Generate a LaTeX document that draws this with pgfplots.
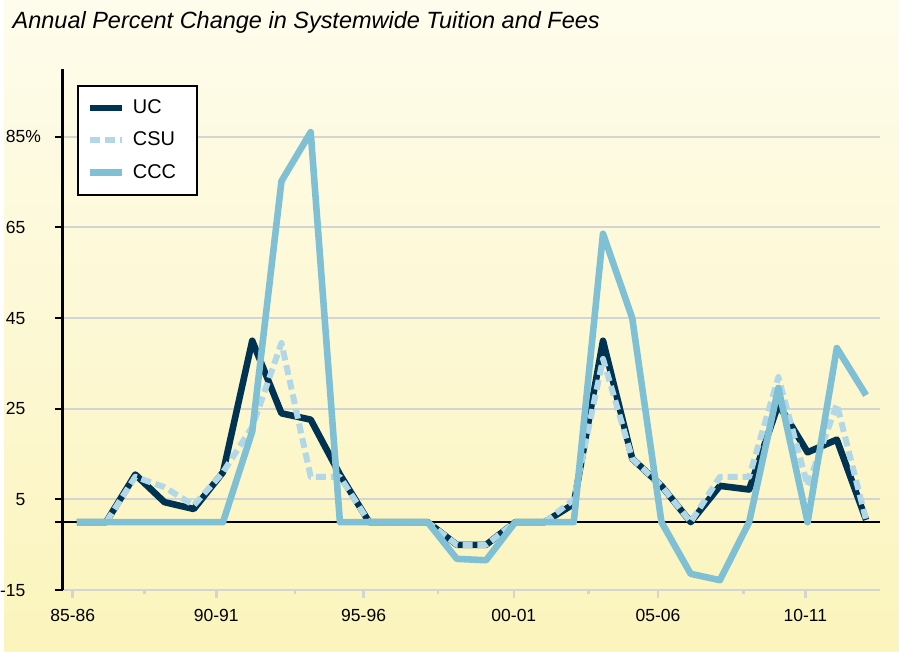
\documentclass[border=0pt]{standalone}
\usepackage{fontspec}
\setmainfont{Liberation Sans}
\usepackage{pgfplots}
\pgfplotsset{compat=1.18}
\definecolor{ucc}{RGB}{0,51,82}
\definecolor{csuc}{RGB}{178,216,232}
\definecolor{cccc}{RGB}{128,192,212}
\definecolor{gridc}{RGB}{212,212,212}
\definecolor{bgtop}{RGB}{254,252,236}
\definecolor{bgbot}{RGB}{251,244,188}
\begin{document}
\begin{tikzpicture}
\shade[top color=bgtop, bottom color=bgbot] (0,0) rectangle (449.5pt,327.5pt);
\begin{axis}[
  at={(29.25pt,31pt)}, anchor=south west,
  scale only axis, width=410.75pt, height=262pt,
  xmin=-0.49, xmax=27.48, ymin=-15, ymax=100,
  axis x line*=bottom, axis y line*=left,
  x axis line style={draw=gridc, line width=1pt, -},
  y axis line style={draw=black, line width=1.25pt, -},
  xtick={-0.14,4.77,9.81,14.95,19.88,24.92},
  xticklabels={85-86,90-91,95-96,00-01,05-06,10-11},
  minor xtick={2.32,7.46,12.36,17.5,22.81},
  ytick={-15,5,25,45,65,85},
  yticklabels={-15,5,25,45,65,85\rlap{\%}},
  tick align=outside,
  major tick length=4pt, minor tick length=2pt,
  x tick style={draw=gridc, line width=1.3pt},
  y tick style={draw=black, line width=1pt},
  ymajorgrids, major grid style={draw=gridc, line width=1pt},
  extra y ticks={0}, extra y tick labels={},
  extra y tick style={grid=major, major grid style={draw=black, line width=0.8pt}, tick style={draw=none}},
  /pgf/number format/assume math mode=true,
  yticklabel style={font=\fontsize{8.8}{10}\selectfont, anchor=east, inner sep=0pt, xshift=-14.5pt},
  xticklabel style={font=\fontsize{8.8}{10}\selectfont, anchor=north, inner sep=0pt, yshift=-5.5pt},
  legend style={at={(axis description cs:0,1)}, anchor=north west, xshift=7.1pt, yshift=-8pt,
    draw=black, line width=1pt, fill=white, inner xsep=4.5pt, inner ysep=7pt, row sep=7.75pt,
    font=\fontsize{10}{11}\selectfont,
    nodes={inner sep=0pt},
    /tikz/every odd column/.append style={column sep=4pt}},
  legend cell align=left,
  legend image code/.code={\draw[#1] (0pt,0pt) -- (16pt,0pt);},
]
\addplot[ucc, line width=3.3pt, line join=round] coordinates {
(0,0) (1,0) (2,10.5) (3,4.4) (4,2.9) (5,11) (6,40) (7,24) (8,22.6) (9,10.5)
(10,0) (11,0) (12,0) (13,-5) (14,-5) (15,0) (16,0) (17,4) (18,40) (19,14)
(20,8) (21,0) (22,8) (23,7.2) (24,26) (25,15.4) (26,18.2) (27,0.5)};
\addplot[csuc, line width=3pt, dash pattern=on 5pt off 2.5pt, line join=round] coordinates {
(0,0) (1,0) (2,10) (3,7.7) (4,3.7) (5,11) (6,21) (7,39.5) (8,10) (9,10)
(10,0) (11,0) (12,0) (13,-5) (14,-5) (15,0) (16,0) (17,5) (18,36) (19,14)
(20,8) (21,0) (22,10) (23,10) (24,32) (25,8) (26,26) (27,0.5)};
\addplot[cccc, line width=3.3pt, line join=round] coordinates {
(0,0) (1,0) (2,0) (3,0) (4,0) (5,0) (6,20) (7,75.2) (8,86) (9,0)
(10,0) (11,0) (12,0) (13,-8.1) (14,-8.4) (15,0) (16,0) (17,0) (18,63.6) (19,45)
(20,0) (21,-11.4) (22,-12.8) (23,0) (24,29.6) (25,0) (26,38.4) (27,28)};
\legend{\makebox[27.5pt][l]{UC},\makebox[27.5pt][l]{CSU},\makebox[27.5pt][l]{CCC}}
\end{axis}
\node[anchor=base west, inner sep=0pt, font=\fontsize{11.8}{14}\selectfont\itshape] at (4pt,313pt) {Annual Percent Change in Systemwide Tuition and Fees};
\end{tikzpicture}
\end{document}
